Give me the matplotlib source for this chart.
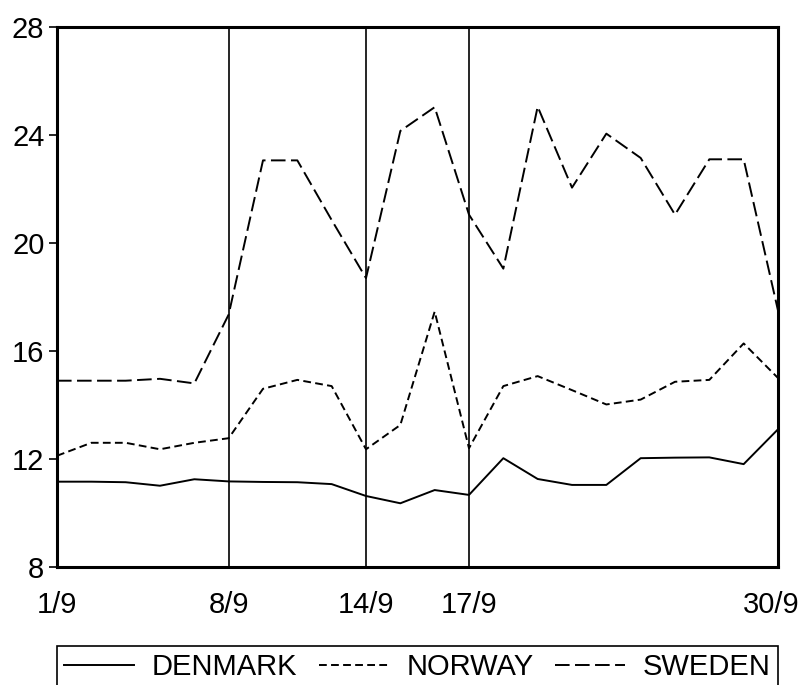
import matplotlib
matplotlib.use("Agg")
import matplotlib.pyplot as plt
import matplotlib.transforms as mtransforms

plt.rcParams['font.family'] = ['Liberation Sans', 'DejaVu Sans']

tick_pos = [0, 5, 9, 12, 21]
tick_labels = ["1/9", "8/9", "14/9", "17/9", "30/9"]
event_pos = [5, 9, 12]

denmark = [11.16, 11.16, 11.14, 11.01, 11.25, 11.17, 11.15, 11.14, 11.07, 10.63, 10.36,
           10.85, 10.67, 12.03, 11.26, 11.04, 11.04, 12.03, 12.05, 12.06, 11.81, 13.1]
norway = [12.12, 12.6, 12.6, 12.36, 12.6, 12.77, 14.6, 14.93, 14.7, 12.36, 13.26,
          17.46, 12.4, 14.7, 15.07, 14.55, 14.02, 14.2, 14.86, 14.93, 16.28, 15.0]
sweden = [14.9, 14.9, 14.9, 14.97, 14.8, 17.35, 23.06, 23.06, 20.85, 18.7, 24.15,
          25.03, 21.05, 19.05, 25.05, 22.05, 24.05, 23.15, 21.05, 23.1, 23.1, 17.5]

fig = plt.figure(figsize=(8.08, 6.85), dpi=100)
ax = fig.add_axes([57/808, 1-567/685, (778-57)/808, (567-27)/685])

x = list(range(len(denmark)))
lw = 1.4
ax.plot(x, denmark, color='black', lw=lw, label='DENMARK')
ax.plot(x, norway, color='black', lw=lw, dashes=(4.0, 2.2), label='NORWAY')
ax.plot(x, sweden, color='black', lw=lw, dashes=(7.5, 2.8), label='SWEDEN')

for p in event_pos:
    ax.axvline(p, color='black', lw=1.2)

ax.set_xlim(0, 21)
ax.set_ylim(8, 28)
ax.set_yticks([8, 12, 16, 20, 24, 28])
ax.set_xticks(tick_pos)
ax.set_xticklabels(tick_labels)
ax.tick_params(axis='y', length=6, width=1.2, pad=3, labelsize=21)
ax.tick_params(axis='x', length=0, pad=17, labelsize=21)
for s in ax.spines.values():
    s.set_linewidth(2.2)

# shift last x label slightly left so it stays inside the figure
last = ax.get_xticklabels()[-1]
last.set_transform(last.get_transform() +
                   mtransforms.ScaledTranslation(-7/100, 0, fig.dpi_scale_trans))

leg = ax.legend(loc='upper left', bbox_to_anchor=(0, -0.216, 1, 0.07), mode='expand',
                ncol=3, fontsize=21, frameon=True, fancybox=False, borderaxespad=0,
                framealpha=1, handlelength=2.4, handletextpad=0.6, borderpad=0.25)
leg.get_frame().set_edgecolor('black')
leg.get_frame().set_linewidth(1.2)

fig.savefig("out.png", dpi=100)
